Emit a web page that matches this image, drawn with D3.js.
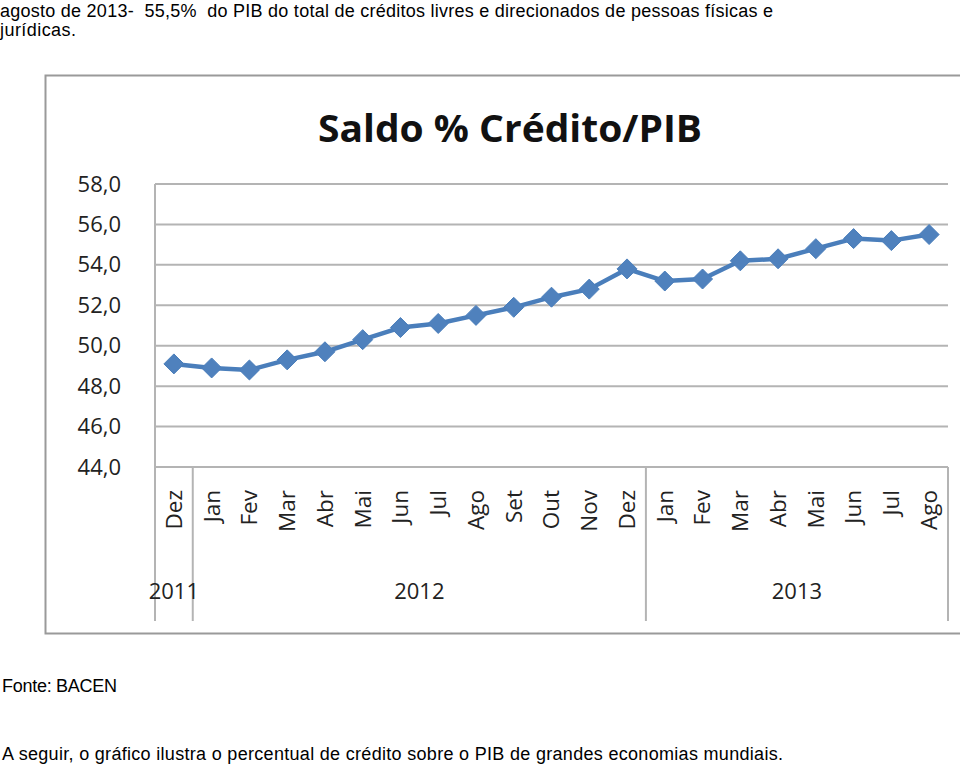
<!DOCTYPE html>
<html>
<head>
<meta charset="utf-8">
<script src="https://cdn.jsdelivr.net/npm/d3@7"></script>
<style>
  html, body { margin: 0; padding: 0; background: #fff; }
  svg { display: block; }
  text { white-space: pre; }
</style>
</head>
<body>
<svg id="chart" width="960" height="765"></svg>
<script>
// ---- data ----
const months = ["Dez","Jan","Fev","Mar","Abr","Mai","Jun","Jul","Ago","Set","Out","Nov","Dez",
                "Jan","Fev","Mar","Abr","Mai","Jun","Jul","Ago"];
const values = [49.1, 48.9, 48.8, 49.3, 49.7, 50.3, 50.9, 51.1, 51.5, 51.9, 52.4, 52.8, 53.8,
                53.2, 53.3, 54.2, 54.3, 54.8, 55.3, 55.2, 55.5];
const years = ["2011", "2012", "2013"];
const yearCounts = [1, 12, 8];
const yTicks = [44, 46, 48, 50, 52, 54, 56, 58];
const title = "Saldo % Crédito/PIB";
const topLine1 = "agosto de 2013-  55,5%  do PIB do total de créditos livres e direcionados de pessoas físicas e";
const topLine2 = "jurídicas.";
const sourceText = "Fonte: BACEN";
const bottomText = "A seguir, o gráfico ilustra o percentual de crédito sobre o PIB de grandes economias mundiais.";

// ---- layout ----
const svg = d3.select("#chart");
const chartFont = "'Open Sans', 'Noto Sans', sans-serif";
const docFont = "'Liberation Sans', Arial, sans-serif";
const lineColor = "#4a7ebb";
const markerColor = "#4f81bd";
const gridColor = "#b4b4b4";

const plotLeft = 155, plotRight = 948, plotTop = 184, plotBottom = 467, axisBottom = 621;

const x = d3.scaleBand().domain(d3.range(months.length)).range([plotLeft, plotRight]).paddingInner(0).paddingOuter(0);
const cx = i => x(i) + x.bandwidth() / 2;
const y = d3.scaleLinear().domain([44, 58]).range([plotBottom, plotTop]);

// document text
function docText(str, xPos, yPos, width) {
  svg.append("text")
    .attr("x", xPos).attr("y", yPos)
    .attr("font-family", docFont).attr("font-size", 18)
    .attr("fill", "#000")
    .attr("textLength", width).attr("lengthAdjust", "spacing")
    .text(str);
}
docText(topLine1, 0, 17, 773);
docText(topLine2, 0, 36, 76);
docText(sourceText, 2, 692, 115);
docText(bottomText, 2, 760, 781);

// outer chart border (open on the right, cut by page edge)
svg.append("path")
  .attr("d", `M962,75.5H45.5V633.5H962`)
  .attr("fill", "none").attr("stroke", "#9a9a9a").attr("stroke-width", 2);

// title
svg.append("text")
  .attr("x", 510).attr("y", 142)
  .attr("text-anchor", "middle")
  .attr("font-family", "'Open Sans', sans-serif").attr("font-weight", "bold")
  .attr("font-size", 38).attr("fill", "#111")
  .attr("textLength", 384).attr("lengthAdjust", "spacingAndGlyphs")
  .text(title);

// gridlines
svg.append("g").selectAll("line").data(yTicks).join("line")
  .attr("x1", plotLeft).attr("x2", plotRight)
  .attr("y1", d => y(d)).attr("y2", d => y(d))
  .attr("stroke", gridColor).attr("stroke-width", 2);

// y axis labels
const yAxis = d3.axisLeft(y).tickValues(yTicks).tickSize(0).tickPadding(0)
  .tickFormat(d => d3.format(".1f")(d).replace(".", ","));
const yg = svg.append("g").attr("transform", `translate(121,0)`).call(yAxis);
yg.select(".domain").remove();
yg.selectAll("text").attr("font-family", chartFont).attr("font-size", 22).attr("fill", "#222");

// axis lines and group separators
const bounds = [0];
yearCounts.reduce((acc, c) => { bounds.push(acc + c); return acc + c; }, 0);
const sepX = bounds.map(b => b < months.length ? x(b) : plotRight);
svg.append("g").selectAll("line").data(sepX).join("line")
  .attr("x1", d => d).attr("x2", d => d)
  .attr("y1", (d, i) => i === 0 ? plotTop : plotBottom).attr("y2", axisBottom)
  .attr("stroke", gridColor).attr("stroke-width", 2);

// month labels
svg.append("g").selectAll("text").data(months).join("text")
  .attr("transform", (d, i) => `translate(${cx(i)},490) rotate(-90)`)
  .attr("text-anchor", "end").attr("dy", "0.35em")
  .attr("font-family", chartFont).attr("font-size", 22.5).attr("fill", "#222")
  .text(d => d);

// year labels
svg.append("g").selectAll("text").data(years).join("text")
  .attr("x", (d, i) => (sepX[i] + sepX[i + 1]) / 2)
  .attr("y", 599)
  .attr("text-anchor", "middle")
  .attr("font-family", chartFont).attr("font-size", 22).attr("fill", "#222")
  .text(d => d);

// line
const line = d3.line().x((d, i) => cx(i)).y(d => y(d));
svg.append("path").datum(values)
  .attr("d", line).attr("fill", "none")
  .attr("stroke", lineColor).attr("stroke-width", 4.5).attr("stroke-linejoin", "round");

// diamond markers
svg.append("g").selectAll("path").data(values).join("path")
  .attr("transform", (d, i) => `translate(${cx(i)},${y(d)})`)
  .attr("d", "M0,-10L10,0L0,10L-10,0Z")
  .attr("fill", markerColor).attr("stroke", lineColor).attr("stroke-width", 1);
</script>
</body>
</html>
